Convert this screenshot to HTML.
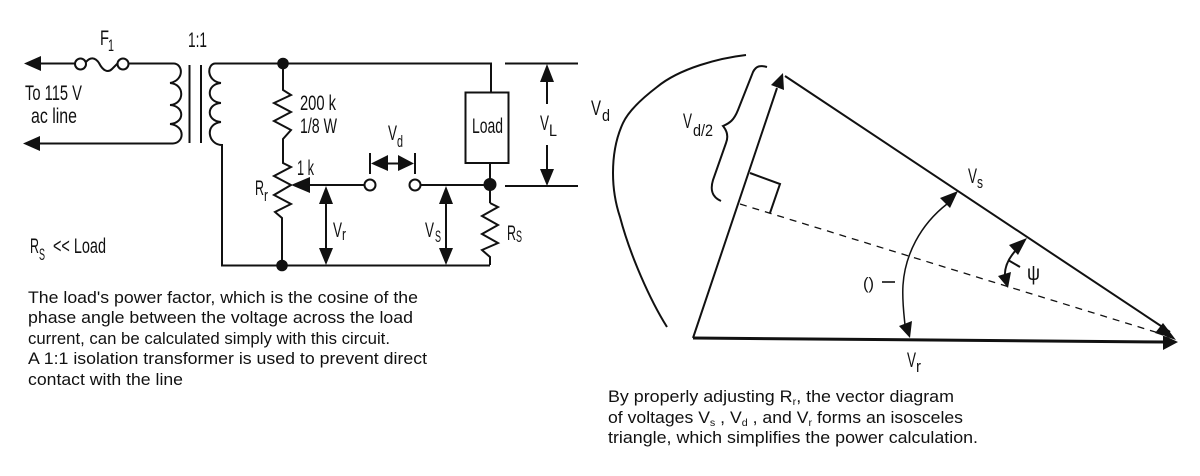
<!DOCTYPE html>
<html><head><meta charset="utf-8"><style>
html,body{margin:0;padding:0;background:#fff;width:1200px;height:476px;overflow:hidden}
svg{display:block}
text{font-family:"Liberation Sans",sans-serif;fill:#111}
.b{font-size:16.5px}
.s{stroke:#111;fill:none;stroke-width:2;stroke-linejoin:miter}
.f{fill:#111;stroke:none}
.l{font-size:21px}
.u{font-size:17px}
</style></head><body>
<svg width="1200" height="476" viewBox="0 0 1200 476" xmlns="http://www.w3.org/2000/svg">
<!-- Left input -->
<path class="f" d="M24 63.5L41 56V71Z M23 143.5L40 136V151Z"/>
<path class="s" d="M38 63.5H75 M86 62C90 57 95 57 99 63C103 71 108 73 112 69C114 67 116 65 118 63 M129 63.5H173 M38 143.5H173"/>
<circle class="s" cx="80.5" cy="64" r="5.5"/><circle class="s" cx="123" cy="64" r="5.5"/>
<path class="s" d="M173 63.5C183 63 185 80 170 83 M170 83C185 84 185 104 170 105 M170 105C185 106 185 123 170 124 M170 124C186 126 184 143 173 143.5"/>
<path class="s" d="M189.500 65V143 M201 65V143"/>
<path class="s" d="M222 63.500H215C207 64 206 81 221 83 M221 83C206 84 206 102 221 103 M221 103C206 104 206 121 221 122 M221 122C204 124 208 145 222 145 M222 144V265.500H490 M215 63.500H491V92"/>
<circle class="f" cx="283" cy="63.5" r="5.8"/>
<circle class="f" cx="282" cy="265.5" r="5.8"/>
<!-- Resistors -->
<polyline class="s" points="283,63 283,90 291,95 274,103 291,112 274,121 291,130 283,139 283,163 291,167 274,176 291,185 274,195 291,204 275,212 282,218 282,265"/>
<path class="s" d="M490 163V184 M490 184V203 M490 203L498 207L482 216L498 225L482 234L498 243L482 250L490 257V265"/>
<rect class="s" x="465.5" y="92.5" width="43" height="70.5"/>
<circle class="f" cx="490" cy="184.5" r="6.500"/>
<!-- Wiper and contacts -->
<path class="f" d="M291 185L310 177V193Z"/>
<path class="s" d="M305 185H364 M421 185H490"/>
<circle class="s" cx="370" cy="185" r="5.5"/><circle class="s" cx="415" cy="185" r="5.5"/>
<!-- Vd -->
<path class="s" d="M370 153V174 M415 153V174 M385 163.5H400"/>
<path class="f" d="M371 163.5L388 155V171Z M414 163.5L398 155V171Z"/>
<!-- Vr, Vs -->
<path class="s" d="M326 195V258 M446 195V258"/>
<path class="f" d="M326 186L319 204H333Z M326 265L319 248H333Z M446 186L439 204H453Z M446 265L439 248H453Z"/>
<!-- VL -->
<path class="s" d="M505 63.5H578 M505 186H578 M547 78V104 M547 145V172"/>
<path class="f" d="M547 64L540 82H554Z M547 186L540 169H554Z"/>
<!-- Circuit labels -->
<text class="l" x="100" y="45" textLength="9" lengthAdjust="spacingAndGlyphs">F</text><text class="u" x="108" y="51" textLength="6" lengthAdjust="spacingAndGlyphs">1</text>
<text class="l" x="188" y="47" textLength="19" lengthAdjust="spacingAndGlyphs">1:1</text>
<text class="l" x="25" y="100" textLength="57" lengthAdjust="spacingAndGlyphs">To 115 V</text>
<text class="l" x="31" y="123" textLength="46" lengthAdjust="spacingAndGlyphs">ac line</text>
<text class="l" x="30" y="253" textLength="9" lengthAdjust="spacingAndGlyphs">R</text><text class="u" x="39" y="260" textLength="6" lengthAdjust="spacingAndGlyphs">S</text>
<text class="l" x="53" y="253" textLength="53" lengthAdjust="spacingAndGlyphs">&lt;&lt; Load</text>
<text class="l" x="300" y="110" textLength="36" lengthAdjust="spacingAndGlyphs">200 k</text>
<text class="l" x="300" y="133" textLength="37" lengthAdjust="spacingAndGlyphs">1/8 W</text>
<text class="l" x="297" y="175" textLength="17" lengthAdjust="spacingAndGlyphs">1 k</text>
<text class="l" x="255" y="195" textLength="9" lengthAdjust="spacingAndGlyphs">R</text><text class="u" x="264" y="201" textLength="4" lengthAdjust="spacingAndGlyphs">r</text>
<text class="l" x="388" y="140" textLength="9" lengthAdjust="spacingAndGlyphs">V</text><text class="u" x="397" y="147" textLength="6" lengthAdjust="spacingAndGlyphs">d</text>
<text class="l" x="333" y="237" textLength="9" lengthAdjust="spacingAndGlyphs">V</text><text class="u" x="342" y="240" textLength="4" lengthAdjust="spacingAndGlyphs">r</text>
<text class="l" x="425" y="237" textLength="9" lengthAdjust="spacingAndGlyphs">V</text><text class="u" x="435" y="242" textLength="6" lengthAdjust="spacingAndGlyphs">S</text>
<text class="l" x="507" y="240" textLength="9" lengthAdjust="spacingAndGlyphs">R</text><text class="u" x="516" y="242" textLength="6" lengthAdjust="spacingAndGlyphs">S</text>
<text class="l" x="472" y="133" textLength="31" lengthAdjust="spacingAndGlyphs">Load</text>
<text class="l" x="540" y="130" textLength="9" lengthAdjust="spacingAndGlyphs">V</text><text class="u" x="549" y="136" textLength="8" lengthAdjust="spacingAndGlyphs">L</text>
<!-- Left caption -->
<text class="b" x="28" y="303" textLength="390" lengthAdjust="spacingAndGlyphs">The load's power factor, which is the cosine of the</text>
<text class="b" x="28" y="323" textLength="385" lengthAdjust="spacingAndGlyphs">phase angle between the voltage across the load</text>
<text class="b" x="28" y="344" textLength="362" lengthAdjust="spacingAndGlyphs">current, can be calculated simply with this circuit.</text>
<text class="b" x="28" y="364" textLength="399" lengthAdjust="spacingAndGlyphs">A 1:1 isolation transformer is used to prevent direct</text>
<text class="b" x="28" y="385" textLength="155" lengthAdjust="spacingAndGlyphs">contact with the line</text>
<!-- Vector diagram -->
<path class="s" d="M746 55C720 58 680 68 657 87C640 100 628 112 623 123C616 138 613 155 613 173C613 190 616 205 620 217C630 255 650 300 667 327"/>
<path class="s" d="M767 67C760 65 756 66 753 72L738 110C734 120 730 123 723 126C728 132 728 138 726 143L713 180C710 190 712 197 721 201"/>
<text class="l" x="591" y="115" textLength="10" lengthAdjust="spacingAndGlyphs">V</text><text class="u" x="602" y="121" textLength="8" lengthAdjust="spacingAndGlyphs">d</text>
<text class="l" x="683" y="128" textLength="9" lengthAdjust="spacingAndGlyphs">V</text><text class="u" x="693" y="136" textLength="20" lengthAdjust="spacingAndGlyphs">d/2</text>
<path class="s" d="M693 338L777 88 M785 76L1170 332 M750 173L780 184L770 213" />
<path d="M693 338L1165 342" stroke="#111" stroke-width="3" fill="none"/>
<path d="M740 204L1165 335" stroke="#111" stroke-width="1.3" stroke-dasharray="7 6" fill="none"/>
<path class="f" d="M783 73L784 90L771 85Z M1178 342L1163 335L1163 350Z M1176 340L1155 333L1163 323Z"/>
<!-- Angles -->
<path d="M947 204C920 225 905 255 903 285C902 300 904 315 905 325" stroke="#111" stroke-width="1.5" fill="none"/>
<path class="f" d="M958 191L940 198L950 208Z M910 338L899 326L912 321Z"/>
<path d="M1018 248C1008 258 1004 268 1005 278 M1008 260L1020 267" stroke="#111" stroke-width="2" fill="none"/>
<path class="f" d="M1027 238L1009 245L1018 255Z M1008 288L998 276L1011 272Z"/>
<text class="l" x="1027" y="280" textLength="13" lengthAdjust="spacingAndGlyphs">ψ</text>
<text class="u" x="863" y="289" textLength="11" lengthAdjust="spacingAndGlyphs">()</text>
<path d="M882 282H895" stroke="#111" stroke-width="1.6"/>
<text class="l" x="907" y="367" textLength="9" lengthAdjust="spacingAndGlyphs">V</text><text class="u" x="916" y="372" textLength="5" lengthAdjust="spacingAndGlyphs">r</text>
<text class="l" x="968" y="183" textLength="9" lengthAdjust="spacingAndGlyphs">V</text><text class="u" x="977" y="188" textLength="6" lengthAdjust="spacingAndGlyphs">s</text>
<!-- Right caption -->
<text class="b" x="608" y="402" textLength="346" lengthAdjust="spacingAndGlyphs">By properly adjusting R<tspan font-size="10" dy="3">r</tspan><tspan dy="-3">, the vector diagram</tspan></text>
<text class="b" x="608" y="423" textLength="355" lengthAdjust="spacingAndGlyphs">of voltages V<tspan font-size="10" dy="3">s</tspan><tspan dy="-3"> , V</tspan><tspan font-size="10" dy="3">d</tspan><tspan dy="-3"> , and V</tspan><tspan font-size="10" dy="3">r</tspan><tspan dy="-3"> forms an isosceles</tspan></text>
<text class="b" x="608" y="443" textLength="370" lengthAdjust="spacingAndGlyphs">triangle, which simplifies the power calculation.</text>
</svg>
</body></html>
